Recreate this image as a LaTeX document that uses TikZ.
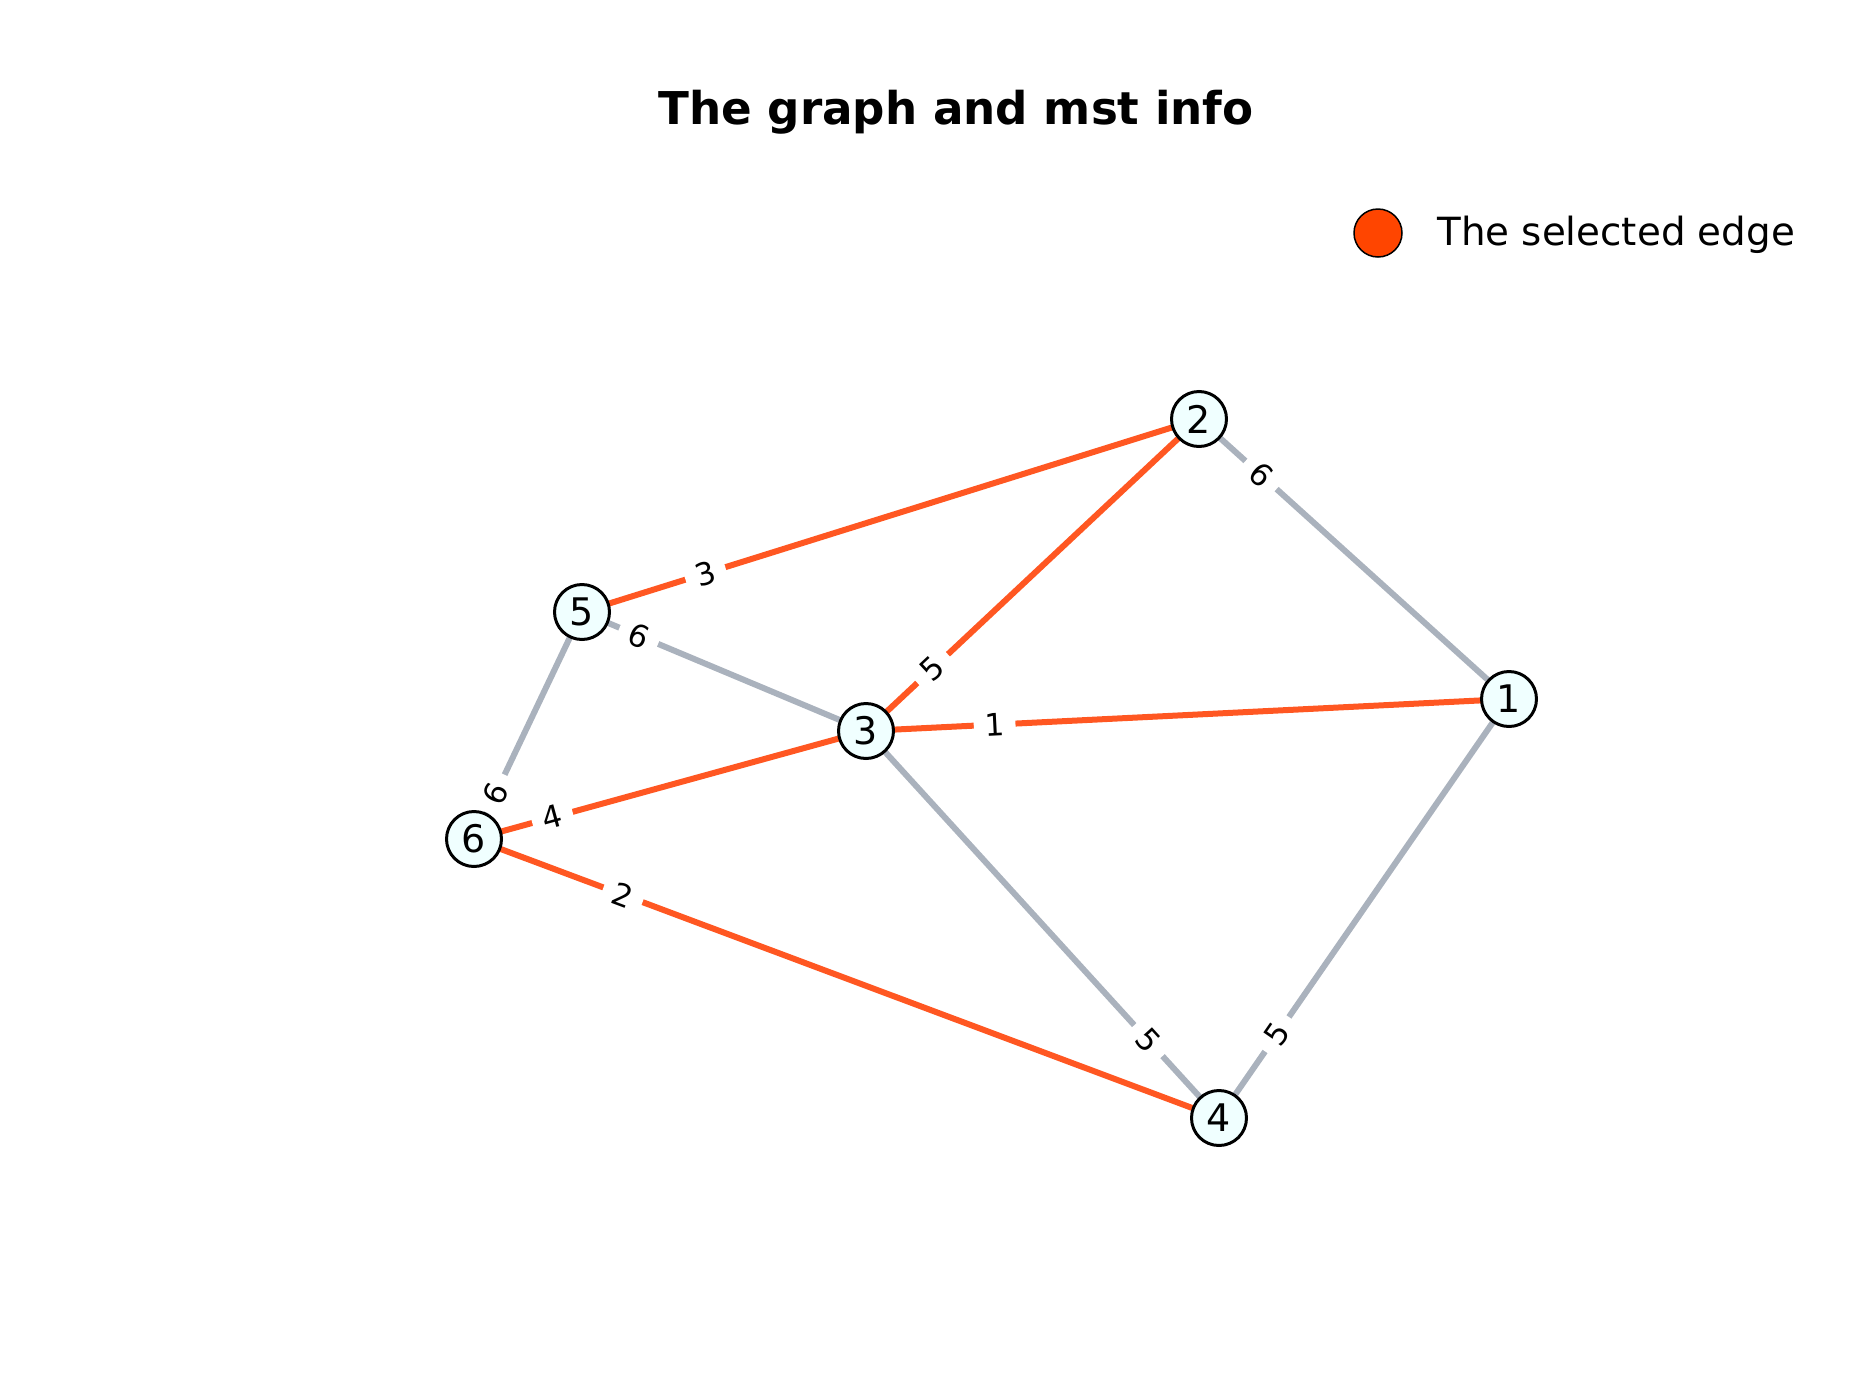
\documentclass[tikz,border=0pt]{standalone}
\usepackage{fontspec}
\setmainfont{DejaVu Sans}
\usetikzlibrary{backgrounds}
\definecolor{selorange}{HTML}{FF5722}
\definecolor{edgegrey}{HTML}{AAB2BD}
\definecolor{legorange}{HTML}{FF4500}
\definecolor{nodefill}{HTML}{F0FFFF}
\begin{document}
\begin{tikzpicture}[x=0.5pt,y=-0.5pt,
  vertex/.style={circle,draw=black,line width=1.5pt,fill=nodefill,minimum size=27.5pt,inner sep=0pt,font=\fontsize{19}{19}\selectfont},
  mstedge/.style={draw=selorange,line width=3pt},
  otheredge/.style={draw=edgegrey,line width=3pt},
  wlabel/.style={fill=white,sloped,inner xsep=5.5pt,inner ysep=2pt,font=\fontsize{15.5}{15.5}\selectfont,pos=0.2}]
\useasboundingbox (0,0) rectangle (1864,1398);

\node[anchor=base,inner sep=0pt,font=\bfseries\fontsize{22.6}{27}\selectfont] (title) at (956,124) {The graph and mst info};

\node[circle,fill=legorange,draw=black,line width=0.75pt,minimum size=24pt,inner sep=0pt] (legdot) at (1378,233) {};
\node[anchor=base west,inner sep=0pt,font=\fontsize{19.4}{24}\selectfont] (legtext) at (1437,245) {The selected edge};

\node[vertex] (n1) at (1509,699) {1};
\node[vertex] (n2) at (1199,419) {2};
\node[vertex] (n3) at (866,731) {3};
\node[vertex] (n4) at (1219,1118) {4};
\node[vertex] (n5) at (582,612) {5};
\node[vertex] (n6) at (474,839) {6};

\begin{pgfonlayer}{background}
\draw[mstedge] (n5.center) -- (n2.center);
\draw[mstedge] (n3.center) -- (n2.center);
\draw[mstedge] (n3.center) -- (n1.center);
\draw[mstedge] (n6.center) -- (n3.center);
\draw[mstedge] (n6.center) -- (n4.center);
\draw[otheredge] (n2.center) -- (n1.center);
\draw[otheredge] (n5.center) -- (n3.center);
\draw[otheredge] (n6.center) -- (n5.center);
\draw[otheredge] (n4.center) -- (n3.center);
\draw[otheredge] (n4.center) -- (n1.center);

\path (n5.center) -- (n2.center) node[wlabel] (l52) {3};
\path (n3.center) -- (n2.center) node[wlabel] (l32) {5};
\path (n3.center) -- (n1.center) node[wlabel] (l31) {1};
\path (n6.center) -- (n3.center) node[wlabel] (l63) {4};
\path (n6.center) -- (n4.center) node[wlabel] (l64) {2};
\path (n2.center) -- (n1.center) node[wlabel] (l21) {6};
\path (n5.center) -- (n3.center) node[wlabel] (l53) {6};
\path (n6.center) -- (n5.center) node[wlabel] (l65) {6};
\path (n4.center) -- (n3.center) node[wlabel] (l43) {5};
\path (n4.center) -- (n1.center) node[wlabel] (l41) {5};
\end{pgfonlayer}
\end{tikzpicture}
\end{document}
